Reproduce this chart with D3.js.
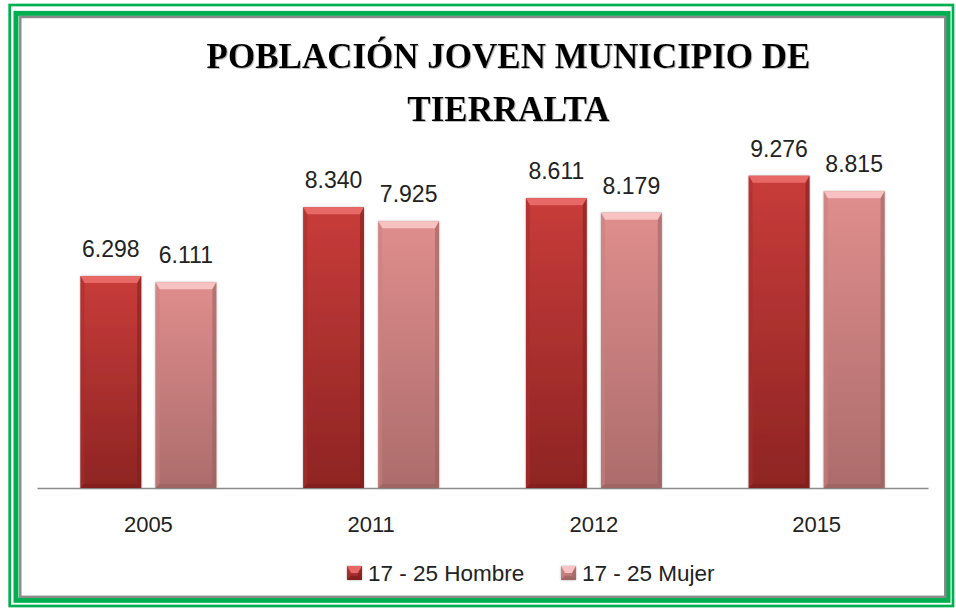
<!DOCTYPE html>
<html>
<head>
<meta charset="utf-8">
<script src="https://cdn.jsdelivr.net/npm/d3@7"></script>
<style>
	body { margin: 0; background: #fff; }
	svg { display: block; }
</style>
</head>
<body>
<div id="chart"></div>
<script>
var years = ['2005', '2011', '2012', '2015'];
var series = ['17 - 25 Hombre', '17 - 25 Mujer'];
var hombre = [6298, 8340, 8611, 9276];
var mujer = [6111, 7925, 8179, 8815];
var titleLines = ['POBLACIÓN JOVEN MUNICIPIO DE', 'TIERRALTA'];

var W = 956, H = 609;

var palette = {
	'17 - 25 Hombre': { top: '#c83c3a', bottom: '#8e2423', bevel: '#e86866', side: '#a82e2d', dark: '#7a1d1c' },
	'17 - 25 Mujer': { top: '#df8e8d', bottom: '#ac6c6b', bevel: '#f7c2c1', side: '#c98180', dark: '#94605f' },
};

var svg = d3.select('#chart').append('svg').attr('width', W).attr('height', H);
var defs = svg.append('defs');

series.forEach(function(s, i) {
	var g = defs.append('linearGradient').attr('id', 'grad' + i)
		.attr('x1', 0).attr('y1', 0).attr('x2', 0).attr('y2', 1);
	g.append('stop').attr('offset', '0%').attr('stop-color', palette[s].top);
	g.append('stop').attr('offset', '100%').attr('stop-color', palette[s].bottom);
});

var sh = defs.append('filter').attr('id', 'barShadow')
	.attr('x', '-20%').attr('y', '-20%').attr('width', '140%').attr('height', '140%');
sh.append('feDropShadow').attr('dx', 0).attr('dy', 0).attr('stdDeviation', 1.2)
	.attr('flood-color', '#777').attr('flood-opacity', 0.6);

var tsh = defs.append('filter').attr('id', 'titleShadow');
tsh.append('feDropShadow').attr('dx', 1).attr('dy', 1).attr('stdDeviation', 0.6)
	.attr('flood-color', '#888').attr('flood-opacity', 0.55);

// frame
svg.append('rect').attr('x', 9.7).attr('y', 5).attr('width', 953 - 9.7).attr('height', 606 - 5)
	.attr('fill', 'none').attr('stroke', '#00b050').attr('stroke-width', 2.7);
svg.append('rect').attr('x', 16).attr('y', 13.4).attr('width', 948 - 16).attr('height', 600.3 - 13.4)
	.attr('fill', 'none').attr('stroke', '#00b050').attr('stroke-width', 5);
svg.append('rect').attr('x', 20.3).attr('y', 17).attr('width', 945.2 - 20.3).attr('height', 596.8 - 17)
	.attr('fill', '#fff').attr('stroke', '#8a8a8a').attr('stroke-width', 2.4);

// title
svg.append('g').attr('filter', 'url(#titleShadow)')
	.selectAll('text').data(titleLines).enter().append('text')
	.attr('x', 508.5)
	.attr('y', function(d, i) { return 67.5 + i * 53; })
	.attr('text-anchor', 'middle')
	.attr('font-family', '"Liberation Serif", "Times New Roman", serif')
	.attr('font-weight', 'bold')
	.attr('font-size', 35)
	.attr('fill', '#000')
	.text(function(d) { return d; });

var x0 = d3.scaleBand().domain(years).range([37, 928]).paddingInner(0.39).paddingOuter(0.195);
var x1 = d3.scaleBand().domain(series).range([0, x0.bandwidth()]).paddingInner(0.19);
var y = d3.scaleLinear().domain([0, 10000]).range([488, 151.4]);

var rows = years.map(function(yr, i) {
	return { year: yr, values: [{ s: series[0], v: hombre[i] }, { s: series[1], v: mujer[i] }] };
});

// axis
var axis = svg.append('g').attr('transform', 'translate(0,488)')
	.call(d3.axisBottom(x0).tickSize(0).tickSizeOuter(0).tickPadding(28));
axis.select('.domain').attr('stroke', '#8c8c8c').attr('stroke-width', 1.3);
axis.selectAll('text')
	.attr('font-family', '"Liberation Sans", Arial, sans-serif')
	.attr('font-size', 22)
	.attr('fill', '#222');

function bevelBar(g, bx, by, bw, bh, idx, s) {
	var c = palette[s];
	var b = Math.min(7, bh / 2), e = 4;
	g.append('rect').attr('x', bx).attr('y', by).attr('width', bw).attr('height', bh)
		.attr('fill', 'url(#grad' + idx + ')').attr('filter', 'url(#barShadow)');
	// top bevel
	g.append('path')
		.attr('d', 'M' + bx + ',' + by + 'L' + (bx + bw) + ',' + by + 'L' + (bx + bw - e) + ',' + (by + b) +
			'L' + (bx + e) + ',' + (by + b) + 'Z')
		.attr('fill', c.bevel);
	// side bevels
	g.append('path')
		.attr('d', 'M' + bx + ',' + by + 'L' + (bx + e) + ',' + (by + b) + 'L' + (bx + e) + ',' + (by + bh - e) +
			'L' + bx + ',' + (by + bh) + 'Z')
		.attr('fill', c.side).attr('opacity', 0.55);
	g.append('path')
		.attr('d', 'M' + (bx + bw) + ',' + by + 'L' + (bx + bw - e) + ',' + (by + b) + 'L' + (bx + bw - e) + ',' + (by + bh - e) +
			'L' + (bx + bw) + ',' + (by + bh) + 'Z')
		.attr('fill', c.dark).attr('opacity', 0.55);
	// bottom bevel
	g.append('path')
		.attr('d', 'M' + bx + ',' + (by + bh) + 'L' + (bx + e) + ',' + (by + bh - e) + 'L' + (bx + bw - e) + ',' + (by + bh - e) +
			'L' + (bx + bw) + ',' + (by + bh) + 'Z')
		.attr('fill', c.dark).attr('opacity', 0.6);
}

var groups = svg.selectAll('.grp').data(rows).enter().append('g')
	.attr('class', 'grp')
	.attr('transform', function(d) { return 'translate(' + x0(d.year) + ',0)'; });

groups.each(function(d) {
	var g = d3.select(this);
	d.values.forEach(function(p, i) {
		var bx = x1(p.s), by = y(p.v), bw = x1.bandwidth(), bh = y(0) - y(p.v);
		bevelBar(g, bx, by, bw, bh, i, p.s);
		g.append('text')
			.attr('x', bx + bw / 2)
			.attr('y', by - 19)
			.attr('text-anchor', 'middle')
			.attr('font-family', '"Liberation Sans", Arial, sans-serif')
			.attr('font-size', 23)
			.attr('fill', '#222')
			.text(d3.format(',')(p.v).replace(',', '.'));
	});
});

// legend
var legendX = [347, 561];
var legend = svg.selectAll('.leg').data(series).enter().append('g')
	.attr('class', 'leg')
	.attr('transform', function(d, i) { return 'translate(' + legendX[i] + ',566)'; });
legend.each(function(s, i) {
	var g = d3.select(this);
	bevelBar(g, 0, 0, 15, 14, i, s);
	g.append('text').attr('x', 21).attr('y', 15)
		.attr('font-family', '"Liberation Sans", Arial, sans-serif')
		.attr('font-size', 22.5)
		.attr('fill', '#222')
		.text(s);
});
</script>
</body>
</html>
